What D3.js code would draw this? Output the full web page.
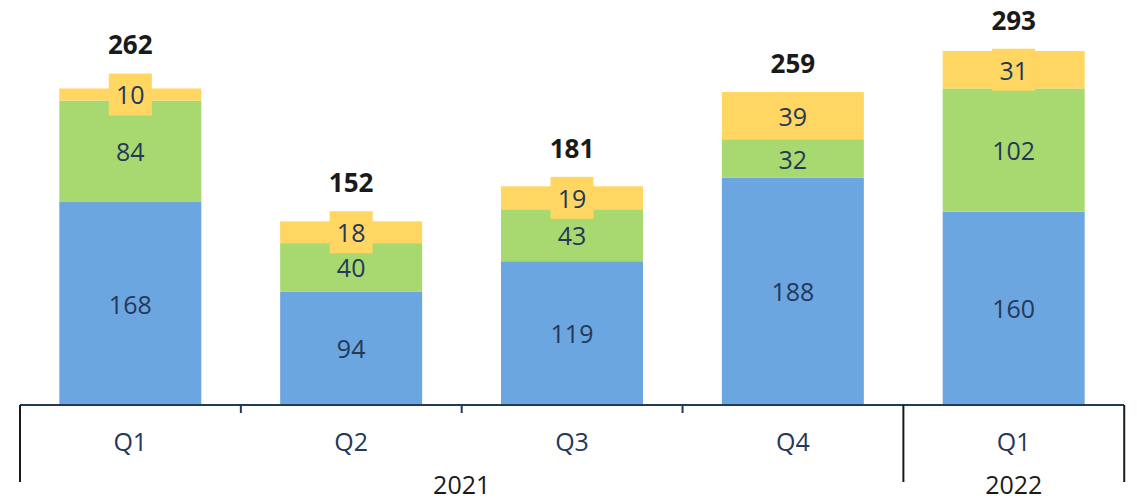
<!DOCTYPE html>
<html>
<head>
<meta charset="utf-8">
<script src="https://cdn.jsdelivr.net/npm/d3@7"></script>
<style>
  body { margin: 0; background: #fff; }
  svg { display: block; font-family: "Open Sans", sans-serif; }
</style>
</head>
<body>
<div id="chart"></div>
<script>
'use strict';

// data
const quarters = ["Q1", "Q2", "Q3", "Q4", "Q1"];
const years = [{label: "2021", from: 0, to: 3}, {label: "2022", from: 4, to: 4}];
const seriesA = [168, 94, 119, 188, 160];
const seriesB = [84, 40, 43, 32, 102];
const seriesC = [10, 18, 19, 39, 31];
const seriesColors = ["#6ca6e0", "#a8d970", "#ffd662"];

const width = 1137, height = 500, baseY = 405;

const svg = d3.select("#chart").append("svg")
    .attr("width", width)
    .attr("height", height);

const x = d3.scaleBand()
    .domain(d3.range(quarters.length))
    .range([20, 1124])
    .paddingInner(0.357)
    .paddingOuter(0.178);

const y = d3.scaleLinear()
    .domain([0, 293])
    .range([baseY, baseY - 354]);

const rows = quarters.map((q, i) => ({i: i, a: seriesA[i], b: seriesB[i], c: seriesC[i]}));
const stack = d3.stack().keys(["a", "b", "c"])(rows);

// bars
const layers = svg.selectAll(".layer")
    .data(stack)
    .enter().append("g")
    .attr("class", "layer")
    .attr("fill", (d, k) => seriesColors[k]);

layers.selectAll("rect")
    .data(d => d)
    .enter().append("rect")
    .attr("x", d => x(d.data.i))
    .attr("width", x.bandwidth())
    .attr("y", d => y(d[1]))
    .attr("height", d => y(d[0]) - y(d[1]));

// segment labels (yellow ones get a little box)
const boxH = 42;
stack.forEach((layer, k) => {
    layer.forEach(d => {
        const cx = x(d.data.i) + x.bandwidth() / 2;
        const cy = (y(d[0]) + y(d[1])) / 2;
        const val = d[1] - d[0];
        if (k === 2) {
            const bw = String(val).length * 15 + 13;
            svg.append("rect")
                .attr("x", cx - bw / 2)
                .attr("y", cy - boxH / 2)
                .attr("width", bw)
                .attr("height", boxH)
                .attr("fill", seriesColors[2]);
        }
        svg.append("text")
            .attr("x", cx)
            .attr("y", cy)
            .attr("dy", ".4em")
            .attr("text-anchor", "middle")
            .attr("font-size", 25)
            .attr("fill", "#253858")
            .text(val);
    });
});

// totals
rows.forEach(r => {
    const total = r.a + r.b + r.c;
    const cx = x(r.i) + x.bandwidth() / 2;
    const yellowMid = (y(r.a + r.b) + y(total)) / 2;
    const top = Math.min(y(total), yellowMid - boxH / 2);
    svg.append("text")
        .attr("x", cx)
        .attr("y", top - 19)
        .attr("text-anchor", "middle")
        .attr("font-size", 26)
        .attr("font-weight", "bold")
        .attr("fill", "#1a1a1a")
        .text(total);
});

// axis
const axis = svg.append("g");
axis.append("line")
    .attr("x1", 20).attr("x2", 1124)
    .attr("y1", baseY).attr("y2", baseY)
    .attr("stroke", "#1f3a5a").attr("stroke-width", 2);

const step = x.step();
const bound = i => 20 + step * i;

[1, 2, 3].forEach(i => {
    axis.append("line")
        .attr("x1", bound(i)).attr("x2", bound(i))
        .attr("y1", baseY).attr("y2", baseY + 8)
        .attr("stroke", "#1f3a5a").attr("stroke-width", 2);
});

[0, 4, 5].forEach(i => {
    axis.append("line")
        .attr("x1", bound(i)).attr("x2", bound(i))
        .attr("y1", baseY).attr("y2", 482)
        .attr("stroke", "#1a1a1a").attr("stroke-width", 2);
});

axis.selectAll(".qlabel")
    .data(quarters)
    .enter().append("text")
    .attr("class", "qlabel")
    .attr("x", (d, i) => x(i) + x.bandwidth() / 2)
    .attr("y", 451)
    .attr("text-anchor", "middle")
    .attr("font-size", 25)
    .attr("fill", "#253858")
    .text(d => d);

axis.selectAll(".ylabel")
    .data(years)
    .enter().append("text")
    .attr("class", "ylabel")
    .attr("x", d => (bound(d.from) + bound(d.to + 1)) / 2)
    .attr("y", 494)
    .attr("text-anchor", "middle")
    .attr("font-size", 25)
    .attr("fill", "#1a1a1a")
    .text(d => d.label);
</script>
</body>
</html>
